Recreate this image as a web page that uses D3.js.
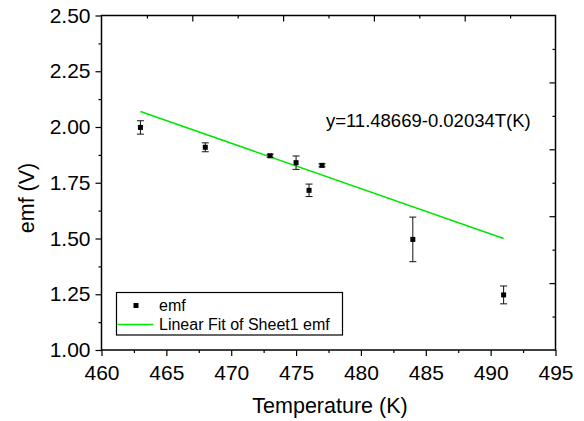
<!DOCTYPE html>
<html>
<head>
<meta charset="utf-8">
<script src="https://cdn.jsdelivr.net/npm/d3@7"></script>
<style>
  body { margin: 0; background: #fff; }
  text { font-family: "Liberation Sans", Arial, sans-serif; fill: #000; }
  .axis path, .axis line { stroke: #000; }
</style>
</head>
<body>
<div id="chart-area"></div>
<script>
let width = 584,
    height = 421;

// data
let temps = [463, 468, 473, 475, 476, 477, 484, 491];
let emf = [1.998, 1.909, 1.871, 1.840, 1.716, 1.828, 1.496, 1.247];
let emfErr = [0.030, 0.020, 0.007, 0.030, 0.028, 0.007, 0.100, 0.040];

// linear fit as printed on the chart
let fitIntercept = 11.48669, fitSlope = -0.02034;
let fitRange = [463, 491];
let fitLabel = "y=11.48669-0.02034T(K)";

let xTicks = [460, 465, 470, 475, 480, 485, 490, 495];
let yTicks = [1.00, 1.25, 1.50, 1.75, 2.00, 2.25, 2.50];

let plotL = 101.5, plotR = 555.5, plotT = 15.5, plotB = 350;

let svg = d3.select("#chart-area")
    .append("svg")
    .attr("width", width)
    .attr("height", height);

let x = d3.scaleLinear().domain([460, 495]).range([plotL, plotR]);
let y = d3.scaleLinear().domain([1, 2.5]).range([plotB, plotT]);

//bottom axis, major + minor
svg.append("g")
    .attr("class", "axis")
    .attr("transform", "translate(0," + plotB + ")")
    .call(d3.axisBottom(x).tickValues(d3.range(462.5, 495, 5)).tickSize(3).tickFormat(""))
    .call(g => g.select(".domain").remove());
svg.append("g")
    .attr("class", "axis")
    .attr("transform", "translate(0," + plotB + ")")
    .call(d3.axisBottom(x).tickValues(xTicks).tickSize(6).tickPadding(9).tickFormat(d3.format("d")))
    .call(g => g.select(".domain").remove())
    .selectAll("text").style("font-size", "21px");

//left axis
svg.append("g")
    .attr("class", "axis")
    .attr("transform", "translate(" + plotL + ",0)")
    .call(d3.axisLeft(y).tickValues(d3.range(1.125, 2.5, 0.25)).tickSize(3).tickFormat(""))
    .call(g => g.select(".domain").remove());
svg.append("g")
    .attr("class", "axis")
    .attr("transform", "translate(" + plotL + ",0)")
    .call(d3.axisLeft(y).tickValues(yTicks).tickSize(6).tickPadding(5).tickFormat(d3.format(".2f")))
    .call(g => g.select(".domain").remove())
    .selectAll("text").style("font-size", "21px");

//top axis (no labels, ticks every 3.5 K, inward)
svg.append("g")
    .attr("class", "axis")
    .attr("transform", "translate(0," + plotT + ")")
    .call(d3.axisBottom(x).tickValues(d3.range(463.5, 495, 7)).tickSize(3).tickFormat(""))
    .call(g => g.select(".domain").remove());
svg.append("g")
    .attr("class", "axis")
    .attr("transform", "translate(0," + plotT + ")")
    .call(d3.axisBottom(x).tickValues(d3.range(467, 494, 7)).tickSize(6).tickFormat(""))
    .call(g => g.select(".domain").remove());

//right axis (ticks every 0.15, inward)
svg.append("g")
    .attr("class", "axis")
    .attr("transform", "translate(" + plotR + ",0)")
    .call(d3.axisLeft(y).tickValues(d3.range(1.15, 2.45, 0.3)).tickSize(3).tickFormat(""))
    .call(g => g.select(".domain").remove());
svg.append("g")
    .attr("class", "axis")
    .attr("transform", "translate(" + plotR + ",0)")
    .call(d3.axisLeft(y).tickValues(d3.range(1.3, 2.45, 0.3)).tickSize(6).tickFormat(""))
    .call(g => g.select(".domain").remove());

svg.selectAll(".axis line").attr("stroke-width", 1.2);

//frame
svg.append("rect")
    .attr("x", plotL)
    .attr("y", plotT)
    .attr("width", plotR - plotL)
    .attr("height", plotB - plotT)
    .attr("fill", "none")
    .attr("stroke", "#000")
    .attr("stroke-width", 1.5);

//fit line
svg.append("line")
    .attr("x1", x(fitRange[0]))
    .attr("y1", y(fitIntercept + fitSlope * fitRange[0]))
    .attr("x2", x(fitRange[1]))
    .attr("y2", y(fitIntercept + fitSlope * fitRange[1]))
    .attr("stroke", "#00e600")
    .attr("stroke-width", 1.6);

//error bars
let pts = temps.map((t, i) => ({t: t, v: emf[i], e: emfErr[i]}));
let eb = svg.append("g").attr("stroke", "#111").attr("stroke-width", 1);
pts.forEach(function(d){
    eb.append("line")
        .attr("x1", x(d.t)).attr("x2", x(d.t))
        .attr("y1", y(d.v - d.e)).attr("y2", y(d.v + d.e));
    [d.v - d.e, d.v + d.e].forEach(function(c){
        eb.append("line")
            .attr("x1", x(d.t) - 3.5).attr("x2", x(d.t) + 3.5)
            .attr("y1", y(c)).attr("y2", y(c));
    });
});

//points
svg.selectAll("rect.pt")
    .data(pts)
    .enter()
    .append("rect")
    .attr("class", "pt")
    .attr("x", d => x(d.t) - 2.5)
    .attr("y", d => y(d.v) - 2.5)
    .attr("width", 5)
    .attr("height", 5)
    .attr("fill", "#000");

//equation
svg.append("text")
    .attr("x", x(477.3))
    .attr("y", y(2.0))
    .style("font-size", "18.5px")
    .text(fitLabel);

//axis titles
svg.append("text")
    .attr("x", 330)
    .attr("y", 413)
    .attr("text-anchor", "middle")
    .style("font-size", "21.5px")
    .text("Temperature (K)");

svg.append("text")
    .attr("transform", "translate(34,198) rotate(-90)")
    .attr("text-anchor", "middle")
    .style("font-size", "21.5px")
    .text("emf (V)");

//legend
let legend = svg.append("g");
legend.append("rect")
    .attr("x", 116.5)
    .attr("y", 292.5)
    .attr("width", 226)
    .attr("height", 42.5)
    .attr("fill", "#fff")
    .attr("stroke", "#000")
    .attr("stroke-width", 1.2);
legend.append("rect")
    .attr("x", 133.5).attr("y", 303)
    .attr("width", 5).attr("height", 5)
    .attr("fill", "#000");
legend.append("text")
    .attr("x", 159).attr("y", 311)
    .style("font-size", "16px")
    .text("emf");
legend.append("line")
    .attr("x1", 117.5).attr("x2", 153.5)
    .attr("y1", 324.5).attr("y2", 324.5)
    .attr("stroke", "#00e600")
    .attr("stroke-width", 1.6);
legend.append("text")
    .attr("x", 159).attr("y", 330)
    .style("font-size", "16px")
    .text("Linear Fit of Sheet1 emf");
</script>
</body>
</html>
